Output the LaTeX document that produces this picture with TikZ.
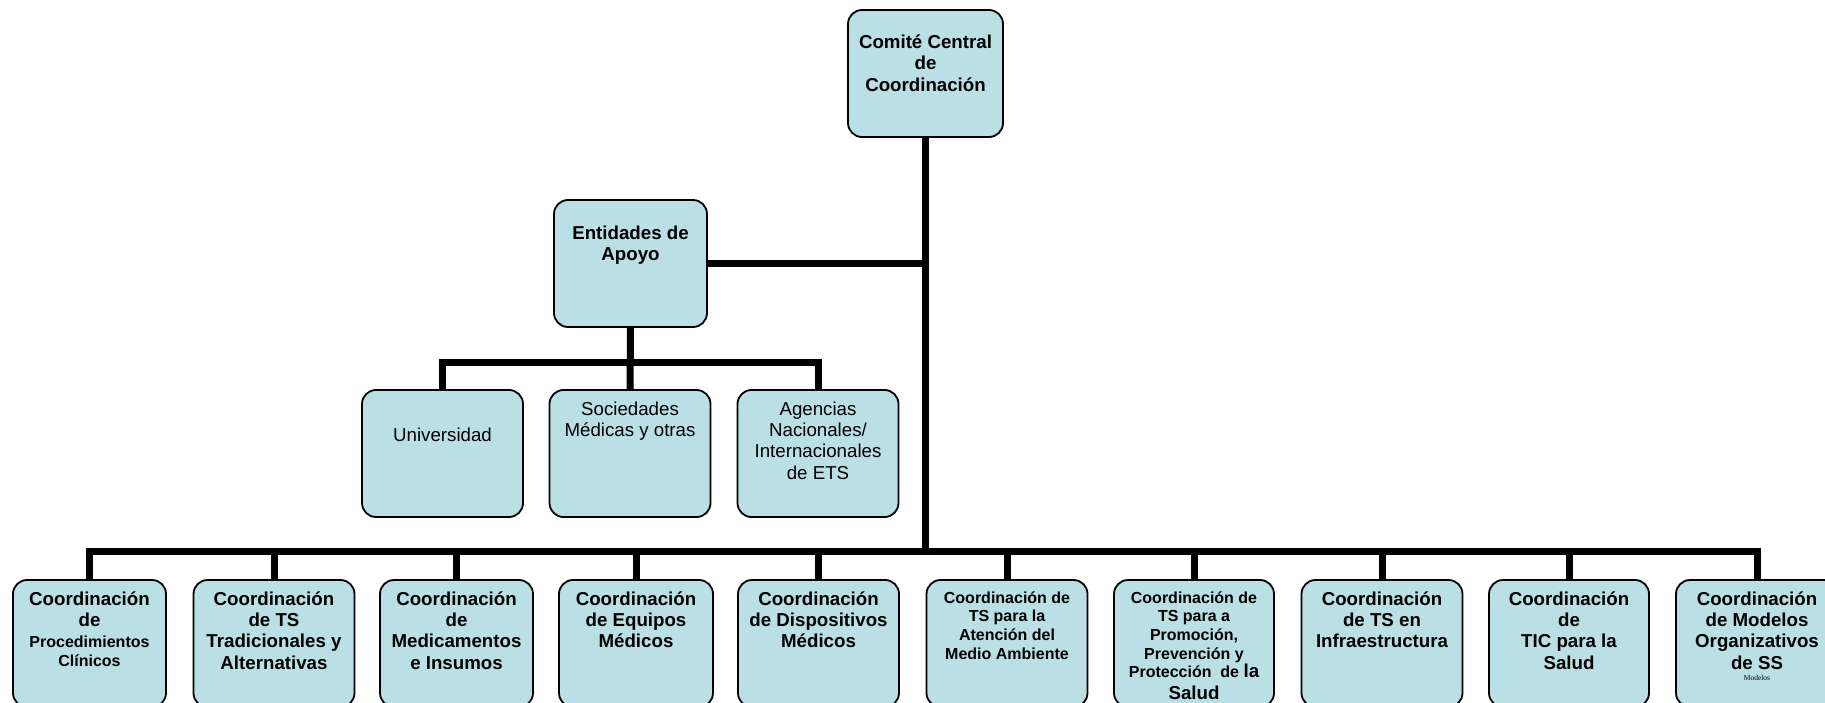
\documentclass[tikz,border=0pt]{standalone}
\usepackage{fontspec}
\setmainfont{Liberation Sans}
\newfontfamily\tinyserif{Liberation Serif}
\definecolor{boxfill}{RGB}{186,223,228}
\newcommand\lgfont{\fontsize{18.7}{21.3}\selectfont}
\newcommand\smfont{\fontsize{16}{18.6}\selectfont}
\newcommand\lblstrut{\rule{0pt}{18pt}}
\tikzset{
  orgbox/.style={draw=black, line width=1.8pt, fill=boxfill, rounded corners=14pt,
    inner sep=0pt, minimum height=127pt, minimum width=#1},
  lowbox/.style={orgbox=#1},
  conn/.style={draw=black, line width=7pt, line join=miter},
  boldlbl/.style={anchor=north, inner sep=0pt, align=center, font=\lgfont\bfseries},
  smalllbl/.style={anchor=north, inner sep=0pt, align=center, font=\smfont\bfseries},
  plainlbl/.style={anchor=north, inner sep=0pt, align=center, font=\lgfont},
}
\begin{document}
\begin{tikzpicture}[x=1pt, y=-1pt]
\useasboundingbox (0,0) rectangle (1825,703);
\clip (0,0) rectangle (1825,703);

% boxes
\node[orgbox=155pt] (top) at (925.5,73.5) {};
\node[orgbox=153pt] (ent) at (630.5,263.5) {};
\node[orgbox=161pt] (univ) at (442.5,453.5) {};
\node[orgbox=161pt] (soc) at (630,453.5) {};
\node[orgbox=161pt] (agen) at (818,453.5) {};

% bottom row (runs past the lower edge of the page)
\node[lowbox=153pt] (b1) at (89.5,643.5) {};
\node[lowbox=161pt] (b2) at (274,643.5) {};
\node[lowbox=153pt] (b3) at (456.5,643.5) {};
\node[lowbox=154pt] (b4) at (636,643.5) {};
\node[lowbox=161pt] (b5) at (818.5,643.5) {};
\node[lowbox=161pt] (b6) at (1007,643.5) {};
\node[lowbox=160pt] (b7) at (1194,643.5) {};
\node[lowbox=161pt] (b8) at (1382,643.5) {};
\node[lowbox=160pt] (b9) at (1569,643.5) {};
\node[lowbox=162pt] (b10) at (1757,643.5) {};

% bar heights
\coordinate (mbar) at (0,362);
\coordinate (bbar) at (0,551.5);

% connectors
\draw[conn] (top.south) -- (top.south |- bbar);
\draw[conn] (ent.east) -- (ent.east -| top.south);
\draw[conn] (ent.south) -- (soc.north);
\draw[conn] (univ.north) -- (univ.north |- mbar) -- (agen.north |- mbar) -- (agen.north);
\draw[conn] (b1.north) -- (b1.north |- bbar) -- (b10.north |- bbar) -- (b10.north);
\foreach \b in {b2,b3,b4,b5,b6,b7,b8,b9}
  \draw[conn] (\b.north) -- (\b.north |- bbar);

% labels
\node[boldlbl] (tTop) at (925.5,30.5) {\lblstrut Comité Central\\de\\Coordinación};
\node[boldlbl] (tEnt) at (630.5,221) {\lblstrut Entidades de\\Apoyo};
\node[plainlbl] (tUniv) at (442.5,423.5) {\lblstrut Universidad};
\node[plainlbl] (tSoc) at (630,397) {\lblstrut Sociedades\\Médicas y otras};
\node[plainlbl] (tAgen) at (818,397) {\lblstrut Agencias\\Nacionales/\\Internacionales\\de ETS};

\node[boldlbl] (t1) at (89.5,587) {\lblstrut Coordinación\\de\\{\smfont Procedimientos}\\[-3pt]{\smfont Clínicos}};
\node[boldlbl] (t2) at (274,587) {\lblstrut Coordinación\\de TS\\Tradicionales y\\Alternativas};
\node[boldlbl] (t3) at (456.5,587) {\lblstrut Coordinación\\de\\Medicamentos\\e Insumos};
\node[boldlbl] (t4) at (636,587) {\lblstrut Coordinación\\de Equipos\\Médicos};
\node[boldlbl] (t5) at (818.5,587) {\lblstrut Coordinación\\de Dispositivos\\Médicos};
\node[smalllbl] (t6) at (1007,585) {\lblstrut Coordinación de\\TS para la\\Atención del\\Medio Ambiente};
\node[smalllbl] (t7) at (1194,585) {\lblstrut Coordinación de\\TS para a\\Promoción,\\Prevención y\\Protección\ \ de {\lgfont la}\\[3pt]{\lgfont Salud}};
\node[boldlbl] (t8) at (1382,587) {\lblstrut Coordinación\\de TS en\\Infraestructura};
\node[boldlbl] (t9) at (1569,587) {\lblstrut Coordinación\\de\\TIC para la\\Salud};
\node[boldlbl] (t10) at (1757,587) {\lblstrut Coordinación\\de Modelos\\Organizativos\\de SS};
\node[anchor=base, inner sep=0pt, font=\tinyserif\fontsize{7.5}{9}\selectfont] (t10m) at (1757,680) {Modelos};
\end{tikzpicture}
\end{document}
